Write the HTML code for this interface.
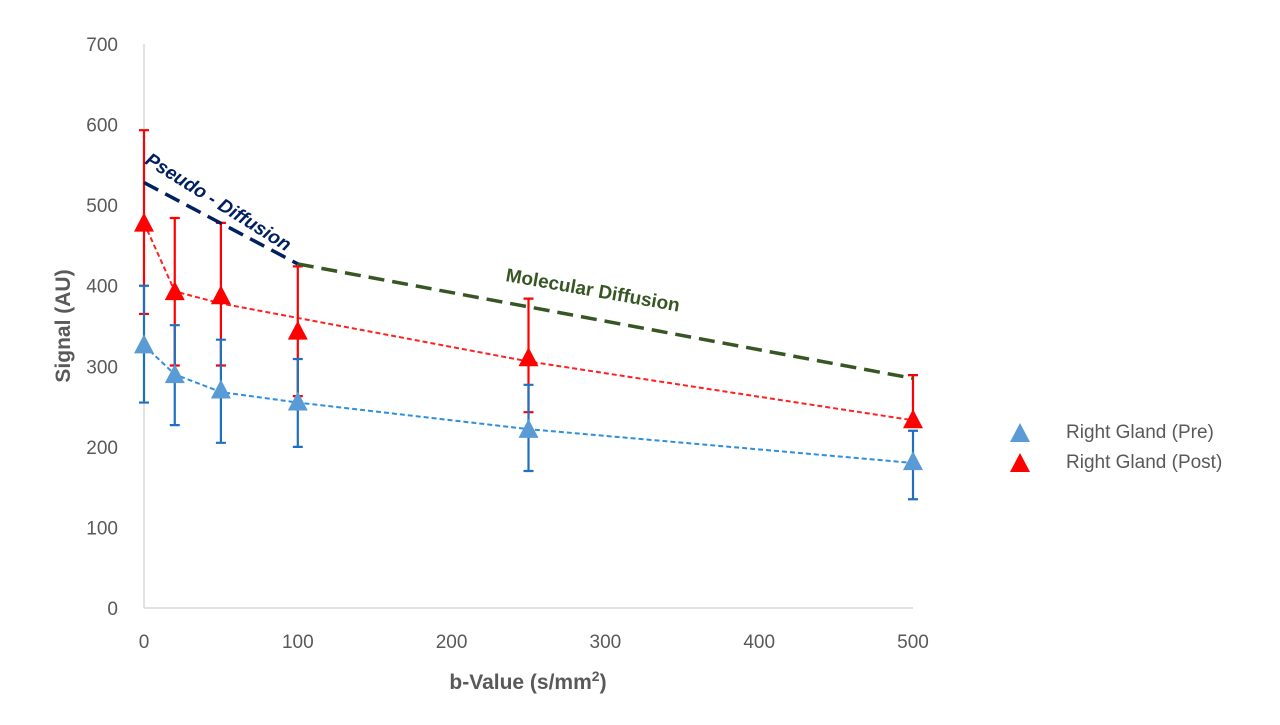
<!DOCTYPE html>
<html><head><meta charset="utf-8"><style>
body{margin:0;background:#fff;font-family:"Liberation Sans",sans-serif}
svg text{font-family:"Liberation Sans",sans-serif}
</style></head><body>
<svg id="c" width="1280" height="720"></svg>
<script>
const xVals=[0,20,50,100,250,500];
const preVals=[326,289,270,255,221,181];
const preHi=[400,351,333,309,277,220];
const preLo=[255,227,205,200,170,135];
const postVals=[477,392,387,343,310,233];
const postHi=[593,484,478,424,384,289];
const postLo=[365,301,301,263,243,233];
const preTrend=[326,290,268,255,222,180];
const postTrend=[478,393,378,360,306,233];
const xTicks=[0,100,200,300,400,500];
const yTicks=[0,100,200,300,400,500,600,700];
const pseudo=[[0,528],[100,427]];
const molecular=[[100,427],[500,285]];
const X=v=>144+v*(913-144)/500, Y=v=>608-v*(608-44)/700;
const s=document.getElementById('c'),NS='http://www.w3.org/2000/svg';
function mk(t,a,txt){const e=document.createElementNS(NS,t);for(const k in a)e.setAttribute(k,a[k]);if(txt!=null)e.textContent=txt;s.appendChild(e);return e;}
let e;
e=mk('line',{x1:X(0),y1:Y(0),x2:X(500),y2:Y(0),stroke:'#d9d9d9','stroke-width':1.5});

e=mk('line',{x1:X(0),y1:Y(0),x2:X(0),y2:Y(700),stroke:'#d9d9d9','stroke-width':1.5});

yTicks.forEach(t=>{e=mk('text',{x:118,y:Y(t)+7,'text-anchor':'end','font-size':19,fill:'#595959'},t);
});
xTicks.forEach(t=>{e=mk('text',{x:X(t),y:648,'text-anchor':'middle','font-size':19,fill:'#595959'},t);
});
e=mk('text',{x:528,y:689,'text-anchor':'middle','font-size':21,'font-weight':'bold',fill:'#595959'});
e.innerHTML='b-Value (s/mm<tspan dy="-8" font-size="14">2</tspan><tspan dy="8">)</tspan>';

e=mk('text',{x:0,y:0,'text-anchor':'middle','font-size':21,'font-weight':'bold',fill:'#595959',transform:`translate(70,326) rotate(-90)`},'Signal (AU)');

function trend(arr,col,name){const p=xVals.map((x,i)=>X(x)+','+Y(arr[i])).join(' ');
e=mk('polyline',{points:p,fill:'none',stroke:col,'stroke-width':2,'stroke-dasharray':'5,3'});
}
trend(preTrend,'#2e8ee0','pre-trendline');trend(postTrend,'#ff2020','post-trendline');
function errs(hi,lo,col,name){xVals.forEach((x,i)=>{const cx=X(x);
e=mk('path',{d:`M${cx},${Y(hi[i])}V${Y(lo[i])}M${cx-5},${Y(hi[i])}H${cx+5}M${cx-5},${Y(lo[i])}H${cx+5}`,stroke:col,'stroke-width':2.2,fill:'none'});
});}
errs(postHi,postLo,'#ff0000','post-error-bar');errs(preHi,preLo,'#1f70c1','pre-error-bar');
function tri(cx,cy,col){return mk('path',{d:`M${cx},${cy-11}L${cx+10},${cy+8}L${cx-10},${cy+8}Z`,fill:col});}
xVals.forEach((x,i)=>{e=tri(X(x),Y(preVals[i]),'#5b9bd5');});
xVals.forEach((x,i)=>{e=tri(X(x),Y(postVals[i]),'#ff0000');});
e=mk('line',{x1:X(pseudo[0][0]),y1:Y(pseudo[0][1]),x2:X(pseudo[1][0]),y2:Y(pseudo[1][1]),stroke:'#002060','stroke-width':3.5,'stroke-dasharray':'16,8'});

e=mk('line',{x1:X(molecular[0][0]),y1:Y(molecular[0][1]),x2:X(molecular[1][0]),y2:Y(molecular[1][1]),stroke:'#375623','stroke-width':3.5,'stroke-dasharray':'16,8'});

e=mk('text',{x:0,y:0,'font-size':19,'font-weight':'bold','font-style':'italic',fill:'#002060',transform:'translate(144,163) rotate(32)'},'Pseudo - Diffusion');

e=mk('text',{x:0,y:0,'font-size':19,'font-weight':'bold',fill:'#375623',transform:'translate(505,281) rotate(10)'},'Molecular Diffusion');

e=tri(1020,434,'#5b9bd5');
e=mk('text',{x:1066,y:438,'font-size':19,fill:'#595959'},'Right Gland (Pre)');
e=tri(1020,464,'#ff0000');
e=mk('text',{x:1066,y:468,'font-size':19,fill:'#595959'},'Right Gland (Post)');
</script></body></html>
